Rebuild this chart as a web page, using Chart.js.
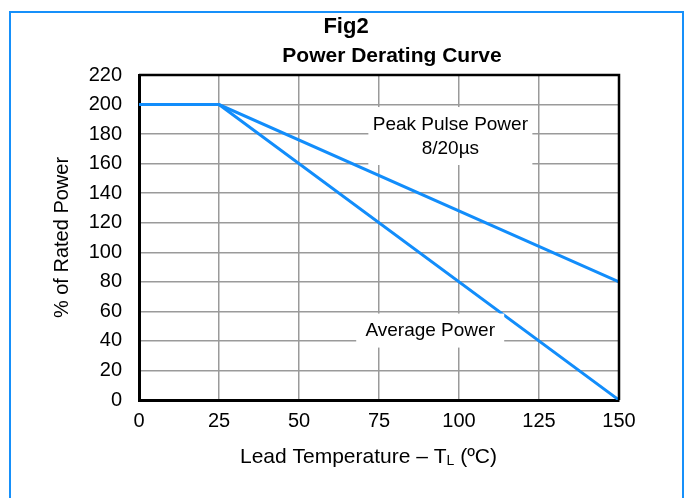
<!DOCTYPE html>
<html>
<head>
<meta charset="utf-8">
<script src="https://cdn.jsdelivr.net/npm/chart.js@4.4.1/dist/chart.umd.min.js"></script>
<style>
  html, body { margin: 0; padding: 0; background: #fff; overflow: hidden; }
  #frame {
    position: absolute; left: 9px; top: 11px; width: 675px; height: 500px;
    border: 2px solid #1690fa; box-sizing: border-box;
  }
  #wrap { position: absolute; left: 0; top: 0; width: 688px; height: 498px; }
</style>
</head>
<body>
<div id="frame"></div>
<div id="wrap"><canvas id="derating" width="688" height="498"></canvas></div>
<script>
const temps = [0, 25, 150];
const peakPulse = [200, 200, 80];
const averagePower = [200, 200, 0];
const xTicks = [0, 25, 50, 75, 100, 125, 150];
const yTicks = [0, 20, 40, 60, 80, 100, 120, 140, 160, 180, 200, 220];

const blue = '#128dfb';
const font = 'Arial, "Liberation Sans", sans-serif';

// titles, frame of plot, boxed labels, x title with subscript
const extras = {
  id: 'extras',
  afterDatasetsDraw(chart) {
    const { ctx, chartArea: a, scales: { x, y } } = chart;
    ctx.save();
    ctx.strokeStyle = '#000';
    ctx.lineWidth = 2.5;
    ctx.beginPath();
    ctx.moveTo(a.left, a.top);
    ctx.lineTo(a.right, a.top);
    ctx.lineTo(a.right, a.bottom);
    ctx.stroke();

    ctx.fillStyle = '#000';
    ctx.textAlign = 'center';
    ctx.textBaseline = 'alphabetic';
    ctx.font = 'bold 22px ' + font;
    ctx.fillText('Fig2', 346, 33);
    ctx.font = 'bold 21px ' + font;
    ctx.fillText('Power Derating Curve', 392, 62);

    // boxed labels
    ctx.textBaseline = 'middle';
    ctx.font = '19px ' + font;
    let cx = x.getPixelForValue(97.3), cy = y.getPixelForValue(178.7);
    ctx.fillStyle = '#fff';
    ctx.fillRect(cx - 82, cy - 29, 164, 58);
    ctx.fillStyle = '#000';
    ctx.fillText('Peak Pulse Power', cx, cy - 11);
    ctx.fillText('8/20\u00b5s', cx, cy + 12.5);

    cx = x.getPixelForValue(91); cy = y.getPixelForValue(47);
    ctx.fillStyle = '#fff';
    ctx.fillRect(cx - 74, cy - 17, 148, 34);
    ctx.fillStyle = '#000';
    ctx.fillText('Average Power', cx, cy);

    // x axis title with subscript L
    ctx.textAlign = 'left';
    ctx.textBaseline = 'alphabetic';
    const p1 = 'Lead Temperature \u2013 T', p2 = 'L', p3 = ' (\u00baC)';
    ctx.font = '21px ' + font;
    const w1 = ctx.measureText(p1).width, w3 = ctx.measureText(p3).width;
    ctx.font = '14px ' + font;
    const w2 = ctx.measureText(p2).width;
    const sx = 368.5 - (w1 + w2 + w3) / 2;
    const ty = 463;
    ctx.font = '21px ' + font;
    ctx.fillText(p1, sx, ty);
    ctx.font = '14px ' + font;
    ctx.fillText(p2, sx + w1, ty + 2);
    ctx.font = '21px ' + font;
    ctx.fillText(p3, sx + w1 + w2, ty);
    ctx.restore();
  }
};

new Chart(document.getElementById('derating'), {
  type: 'line',
  data: {
    datasets: [{
      label: 'Peak Pulse Power',
      data: temps.map((t, i) => ({ x: t, y: peakPulse[i] })),
      borderColor: blue,
      borderWidth: 3,
      pointRadius: 0,
      fill: false
    }, {
      label: 'Average Power',
      data: temps.map((t, i) => ({ x: t, y: averagePower[i] })),
      borderColor: blue,
      borderWidth: 3,
      pointRadius: 0,
      fill: false
    }]
  },
  options: {
    responsive: false,
    animation: false,
    layout: { padding: { top: 75, right: 69, left: 0, bottom: 0 } },
    plugins: {
      legend: { display: false },
      tooltip: { enabled: false }
    },
    scales: {
      x: {
        type: 'linear',
        min: 0,
        max: 150,
        afterBuildTicks: s => { s.ticks = xTicks.map(v => ({ value: v })); },
        afterFit: s => { s.height = 98; },
        ticks: { color: '#000', font: { size: 20, family: font }, padding: 9 },
        grid: { color: '#9a9a9a', lineWidth: 1.5, drawTicks: false },
        border: { color: '#000', width: 3 }
      },
      y: {
        min: 0,
        max: 220,
        afterBuildTicks: s => { s.ticks = yTicks.map(v => ({ value: v })); },
        afterFit: s => { s.width = 139; },
        ticks: { color: '#000', font: { size: 20, family: font }, padding: 17 },
        grid: { color: '#9a9a9a', lineWidth: 1.5, drawTicks: false },
        border: { color: '#000', width: 3 },
        title: {
          display: true,
          text: '% of Rated Power',
          color: '#000',
          font: { size: 20, family: font },
          padding: { top: 50 }
        }
      }
    }
  },
  plugins: [extras]
});
</script>
</body>
</html>
